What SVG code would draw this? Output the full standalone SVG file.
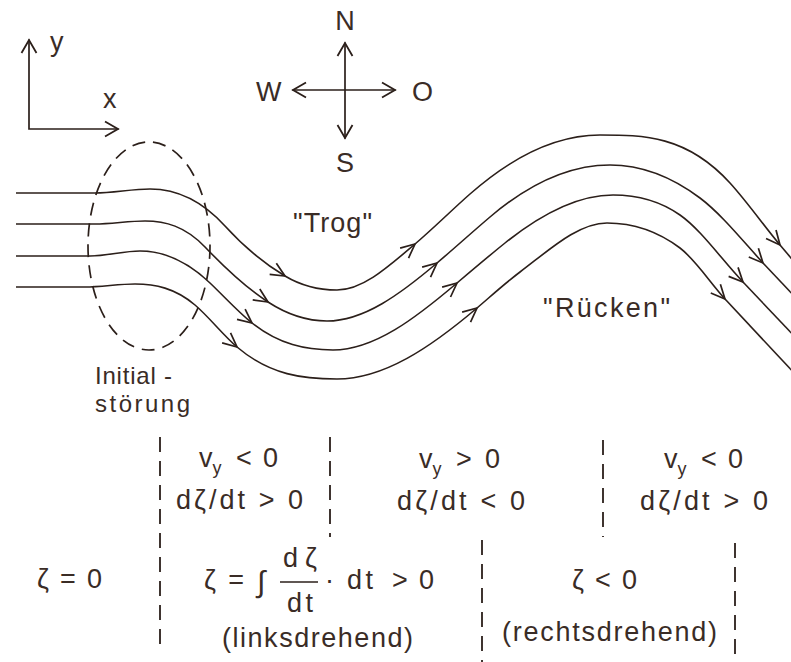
<svg xmlns="http://www.w3.org/2000/svg" width="791" height="662" viewBox="0 0 791 662">
<style>
.ln{fill:none;stroke:#2b1f1a;stroke-width:1.7;stroke-linecap:round}
.sl{fill:none;stroke:#2b1f1a;stroke-width:1.6;marker-end:url(#chev)}
.sl2{fill:none;stroke:#2b1f1a;stroke-width:1.6}
.dash{fill:none;stroke:#2b1f1a;stroke-width:1.8;stroke-dasharray:15 9}
.t{font-family:"Liberation Sans",Arial,sans-serif;font-size:27px;fill:#3a2c26}
.sub{font-size:18px}
.lbl{font-size:24px}
</style>
<defs>
<marker id="chev" viewBox="-16 -9 18 18" markerWidth="18" markerHeight="18" refX="0" refY="0" orient="auto" markerUnits="userSpaceOnUse">
<path d="M-14,-6.5 L0,0 L-14,6.5" fill="none" stroke="#2b1f1a" stroke-width="1.7"/>
</marker>
<marker id="big" viewBox="-15 -9 17 18" markerWidth="17" markerHeight="18" refX="0" refY="0" orient="auto-start-reverse" markerUnits="userSpaceOnUse">
<path d="M-13,-7.5 L0,0 L-13,7.5" fill="none" stroke="#2b1f1a" stroke-width="1.8"/>
</marker>
</defs>
<rect width="791" height="662" fill="#ffffff"/>

<g id="axes">
<path class="ln" d="M29,40 L29,129 L118,129" marker-start="url(#big)" marker-end="url(#big)"/>
<text class="t" x="50" y="51">y</text>
<text class="t" x="103" y="108">x</text>
</g>

<g id="compass">
<line class="ln" x1="345" y1="43" x2="345" y2="138" marker-start="url(#big)" marker-end="url(#big)"/>
<line class="ln" x1="293" y1="90" x2="395" y2="90" marker-start="url(#big)" marker-end="url(#big)"/>
<text class="t" x="345" y="30" text-anchor="middle">N</text>
<text class="t" x="256" y="101">W</text>
<text class="t" x="412" y="101">O</text>
<text class="t" x="345" y="172" text-anchor="middle">S</text>
</g>

<g id="disturbance">
<ellipse cx="149" cy="246" rx="61" ry="104" fill="none" stroke="#2b1f1a" stroke-width="1.7" stroke-dasharray="13 8"/>
<text class="t lbl" x="95" y="384" textLength="77">Initial -</text>
<text class="t lbl" x="95" y="412" textLength="95">störung</text>
</g>

<g id="streamlines">
<path class="sl" d="M16,193 L95,193 C113.3,193 131.7,189 150,189 C175,189 200,198.5 225,226 C245,248 265,264 285,276"/>
<path class="sl" d="M285,276 C302.3,286.4 319.7,290 337,290 C363,290 389,266.1 415,244"/>
<path class="sl" d="M415,244 C433.3,228.4 451.7,210.1 470,194 C513.3,155.9 556.7,135 600,135 C643.3,135 686.7,135.3 730,183 C746.7,201.3 763.3,225 780,245"/>
<path class="sl2" d="M780,245 L797,265"/>

<path class="sl" d="M16,224 L95,224 C111.7,224 128.3,221 145,221 C165,221 185,226 205,247 C226,269 247,288.4 268,302"/>
<path class="sl" d="M268,302 C287.7,314.8 307.3,321 327,321 C363.7,321 400.3,294.2 437,263"/>
<path class="sl" d="M437,263 C454.7,248 472.3,232 490,217 C530,183 570,165 610,165 C640,165 670,175.5 700,198 C721,213.8 742,239.9 763,263"/>
<path class="sl2" d="M763,263 L797,299"/>

<path class="sl" d="M16,256 L90,256 C106.7,256 123.3,251 140,251 C163.3,251 186.7,260.8 210,283 C224,296.3 238,311.8 252,323"/>
<path class="sl" d="M252,323 C279,344.6 306,350 333,350 C374.3,350 415.7,318.1 457,283"/>
<path class="sl" d="M457,283 C473,269.4 489,255.8 505,243 C541,214.2 577,195 613,195 C635.3,195 657.7,199.4 680,215 C701,229.7 722,260 743,282"/>
<path class="sl2" d="M743,282 L797,339"/>

<path class="sl" d="M16,287 L85,287 C101.7,287 118.3,284 135,284 C155,284 175,288 195,305 C209,316.9 223,335.1 237,347"/>
<path class="sl" d="M237,347 C270.3,375.3 303.7,379 337,379 C383.7,379 430.3,347.7 477,308"/>
<path class="sl" d="M477,308 C491.3,295.8 505.7,282.75 520,272 C549,250.25 578,223 607,223 C631.3,223 655.7,229.75 680,248 C695,259.25 710,282.5 725,299"/>
<path class="sl2" d="M725,299 L797,376"/>
</g>

<g id="labels">
<text class="t" x="293" y="232" textLength="79">"Trog"</text>
<text class="t" x="543" y="317" textLength="127">"Rücken"</text>
</g>

<g id="dividers">
<line class="dash" x1="160" y1="437" x2="160" y2="652"/>
<line class="dash" x1="330" y1="437" x2="330" y2="537"/>
<line class="dash" x1="603" y1="440" x2="603" y2="537"/>
<line class="dash" x1="482" y1="540" x2="482" y2="662"/>
<line class="dash" x1="735" y1="543" x2="735" y2="662"/>
</g>

<g id="table">
<text class="t" x="199" y="467">v<tspan class="sub" dy="7">y</tspan></text>
<text class="t" x="236" y="467" textLength="42">&lt; 0</text>
<text class="t" x="176" y="509" textLength="127">dζ/dt &gt; 0</text>

<text class="t" x="419" y="468">v<tspan class="sub" dy="7">y</tspan></text>
<text class="t" x="456" y="468" textLength="44">&gt; 0</text>
<text class="t" x="397" y="510" textLength="128">dζ/dt &lt; 0</text>

<text class="t" x="664" y="468">v<tspan class="sub" dy="7">y</tspan></text>
<text class="t" x="701" y="468" textLength="42">&lt; 0</text>
<text class="t" x="640" y="510" textLength="128">dζ/dt &gt; 0</text>

<text class="t" x="37" y="588" textLength="65">ζ = 0</text>

<text class="t" x="204" y="589" textLength="40">ζ =</text>
<text class="t" x="257" y="592" style="font-size:30px">∫</text>
<text class="t" x="283" y="567" textLength="34">dζ</text>
<line x1="280" y1="582" x2="318" y2="582" stroke="#2b1f1a" stroke-width="1.6"/>
<text class="t" x="287" y="612" textLength="26">dt</text>
<text class="t" x="325" y="589">·</text>
<text class="t" x="347" y="589" textLength="26">dt</text>
<text class="t" x="392" y="589" textLength="42">&gt; 0</text>
<text class="t" x="222" y="647" textLength="191">(linksdrehend)</text>

<text class="t" x="572" y="589" textLength="65">ζ &lt; 0</text>
<text class="t" x="502" y="641" textLength="215">(rechtsdrehend)</text>
</g>
</svg>
